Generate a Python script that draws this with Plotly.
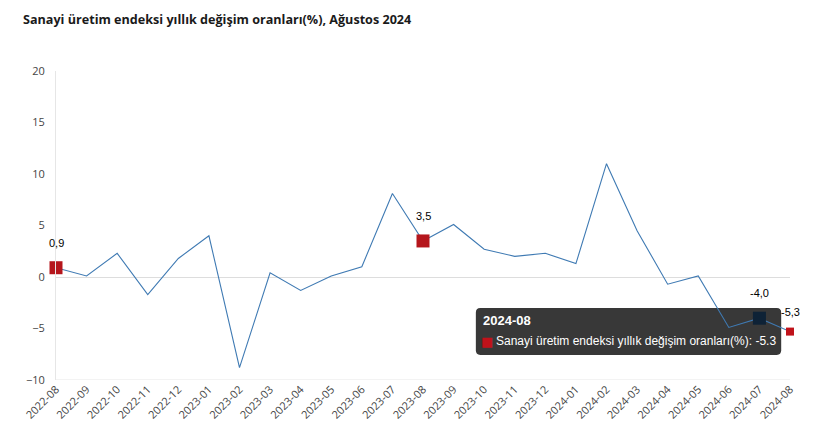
import plotly.graph_objects as go

months = ["2022-08", "2022-09", "2022-10", "2022-11", "2022-12", "2023-01", "2023-02",
          "2023-03", "2023-04", "2023-05", "2023-06", "2023-07", "2023-08", "2023-09",
          "2023-10", "2023-11", "2023-12", "2024-01", "2024-02", "2024-03", "2024-04",
          "2024-05", "2024-06", "2024-07", "2024-08"]
values = [0.9, 0.1, 2.3, -1.7, 1.8, 4.0, -8.8, 0.4, -1.3, 0.1, 1.0, 8.1, 3.5, 5.1,
          2.7, 2.0, 2.3, 1.3, 11.0, 4.5, -0.7, 0.1, -4.9, -4.0, -5.3]
y_ticks = [-10, -5, 0, 5, 10, 15, 20]

red_idx = [0, 12]
dark_idx = [23]
small_idx = [24]

series_name = "Sanayi üretim endeksi yıllık değişim oranları(%)"
title_text = "Sanayi üretim endeksi yıllık değişim oranları(%), Ağustos 2024"
tooltip_month = "2024-08"


def lbl(v):
    return f"{v:.1f}".replace(".", ",")


fig = go.Figure()
fig.add_trace(go.Scatter(x=months, y=values, mode="lines",
                         line=dict(color="#3f7ab3", width=1.1),
                         hoverinfo="skip", cliponaxis=False))


def marker_trace(idx, color, size):
    return go.Scatter(x=[months[i] for i in idx], y=[values[i] for i in idx],
                      mode="markers", marker=dict(symbol="square", color=color, size=size,
                                                  line=dict(width=0)),
                      hoverinfo="skip", cliponaxis=False)


fig.add_trace(marker_trace(red_idx, "#b5161c", 13))
fig.add_trace(marker_trace(dark_idx, "#0e2236", 13))
fig.add_trace(marker_trace(small_idx, "#c0121a", 8))

# page body has an 8px margin, so the figure is sized/offset to compensate
fig.update_layout(
    width=813, height=440,
    margin=dict(l=48, r=31, t=63, b=68),
    paper_bgcolor="white", plot_bgcolor="white",
    showlegend=False,
    title=dict(text=f"<b>{title_text}</b>", x=0.0185, xanchor="left", y=0.973, yanchor="middle",
               font=dict(family="Open Sans", size=12.6, color="#1a1a1a")),
    xaxis=dict(type="category", range=[0, len(months) - 1], tickangle=-45,
               showgrid=False, showline=False, zeroline=False, ticks="", automargin=False,
               tickfont=dict(family="Open Sans", size=11, color="#444")),
    yaxis=dict(range=[-10, 20], tickvals=y_ticks, showgrid=False, automargin=False,
               zeroline=True, zerolinecolor="#dddddd", zerolinewidth=1,
               showline=True, linecolor="#e6e6e6", linewidth=1, ticks="",
               ticklabelstandoff=8,
               tickfont=dict(family="Open Sans", size=11, color="#444")),
)

fig.add_shape(type="line", xref="paper", yref="y", x0=0, x1=1, y0=-10, y1=-10,
              line=dict(color="#e6e6e6", width=1), layer="below")

for i in red_idx + dark_idx + small_idx:
    fig.add_annotation(x=months[i], y=values[i], text=lbl(values[i]), showarrow=False,
                       yshift=25 if i != 24 else 20,
                       font=dict(family="Liberation Sans, Arial", size=11, color="#000"))

# tooltip box (rounded)
x0, x1, y0, y1 = 0.572, 0.988, 0.081, 0.233
rx, ry = 0.006, 0.015
path = (f"M {x0+rx},{y0} L {x1-rx},{y0} Q {x1},{y0} {x1},{y0+ry} L {x1},{y1-ry} "
        f"Q {x1},{y1} {x1-rx},{y1} L {x0+rx},{y1} Q {x0},{y1} {x0},{y1-ry} "
        f"L {x0},{y0+ry} Q {x0},{y0} {x0+rx},{y0} Z")
fig.add_shape(type="path", path=path, xref="paper", yref="paper",
              fillcolor="rgba(45,45,45,0.95)", line=dict(width=0), layer="between")
fig.add_annotation(xref="paper", yref="paper", x=0.579, y=0.191, xanchor="left",
                   yanchor="middle", showarrow=False, text=f"<b>{tooltip_month}</b>",
                   font=dict(family="Liberation Sans, Arial", size=13, color="white"))
fig.add_annotation(xref="paper", yref="paper", x=0.5875, y=0.125, xanchor="center",
                   yanchor="middle", showarrow=False, text="■",
                   font=dict(family="DejaVu Sans", size=13, color="#c0121a"))
fig.add_annotation(xref="paper", yref="paper", x=0.597, y=0.125, xanchor="left",
                   yanchor="middle", showarrow=False,
                   text=f"{series_name}: {values[-1]}",
                   font=dict(family="Liberation Sans, Arial", size=12, color="white"))

fig.write_html("out.html")
